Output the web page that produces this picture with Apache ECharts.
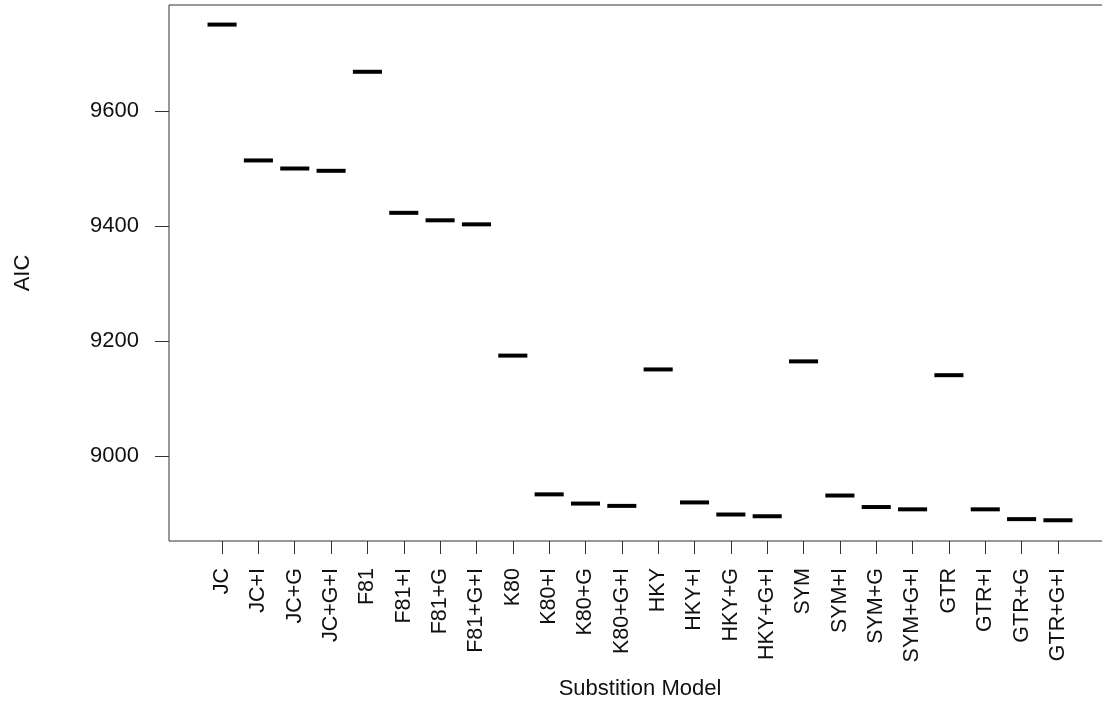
<!DOCTYPE html>
<html>
<head>
<meta charset="utf-8">
<script src="https://cdn.jsdelivr.net/npm/echarts@6/dist/echarts.min.js"></script>
<style>
html,body{margin:0;padding:0;background:#fff;}
#chart{width:1102px;height:707px;}
</style>
</head>
<body>
<div id="chart"></div>
<script>
var categories = ["JC","JC+I","JC+G","JC+G+I","F81","F81+I","F81+G","F81+G+I","K80","K80+I","K80+G","K80+G+I","HKY","HKY+I","HKY+G","HKY+G+I","SYM","SYM+I","SYM+G","SYM+G+I","GTR","GTR+I","GTR+G","GTR+G+I"];
var aicValues = [9750, 9514, 9500, 9496, 9668, 9423, 9410, 9403, 9175, 8934, 8918, 8914, 9151, 8920, 8899, 8896, 9165, 8932, 8912, 8908, 9141, 8908, 8891, 8889];
var yTicks = [9000, 9200, 9400, 9600];

var positions = categories.map(function(c, i){ return i + 1; });
var seriesData = categories.map(function(c, i){ return [positions[i], aicValues[i]]; });

var FONT = '"Liberation Sans", Arial, sans-serif';
var chart = echarts.init(document.getElementById('chart'), null, {renderer: 'canvas'});
chart.setOption({
  animation: false,
  backgroundColor: '#ffffff',
  grid: {
    left: 169, top: 5, width: 942, height: 536,
    show: true, borderColor: '#333', borderWidth: 1,
    containLabel: false, outerBoundsMode: 'none'
  },
  xAxis: {
    type: 'value',
    min: -0.46, max: 25.46,
    name: 'Substition Model',
    nameLocation: 'middle',
    nameGap: 137,
    nameTextStyle: {fontFamily: FONT, fontSize: 22, color: '#111'},
    axisLine: {show: false, onZero: false},
    splitLine: {show: false},
    axisTick: {show: true, inside: false, customValues: positions, length: 13, lineStyle: {color: '#333', width: 1}},
    axisLabel: {
      customValues: positions,
      rotate: 90,
      margin: 27,
      fontFamily: FONT, fontSize: 21.5, color: '#111',
      formatter: function(v){ return categories[Math.round(v) - 1] || ''; }
    }
  },
  yAxis: {
    type: 'value',
    min: 8853, max: 9784,
    name: 'AIC',
    nameLocation: 'middle',
    nameGap: 135,
    nameTextStyle: {fontFamily: FONT, fontSize: 22, color: '#111'},
    axisLine: {show: false, onZero: false},
    splitLine: {show: false},
    axisTick: {show: true, inside: false, customValues: yTicks, length: 14, lineStyle: {color: '#333', width: 1}},
    axisLabel: {
      customValues: yTicks,
      margin: 30,
      fontFamily: FONT, fontSize: 22, color: '#111',
      formatter: function(v){ return String(Math.round(v)); }
    }
  },
  series: [{
    type: 'custom',
    data: seriesData,
    renderItem: function(params, api){
      var x = api.value(0), y = api.value(1);
      var p1 = api.coord([x - 0.4, y]);
      var p2 = api.coord([x + 0.4, y]);
      return {
        type: 'line',
        shape: {x1: p1[0], y1: p1[1], x2: p2[0], y2: p2[1]},
        style: {stroke: '#000', lineWidth: 4, lineCap: 'butt'}
      };
    }
  }]
});
</script>
</body>
</html>
